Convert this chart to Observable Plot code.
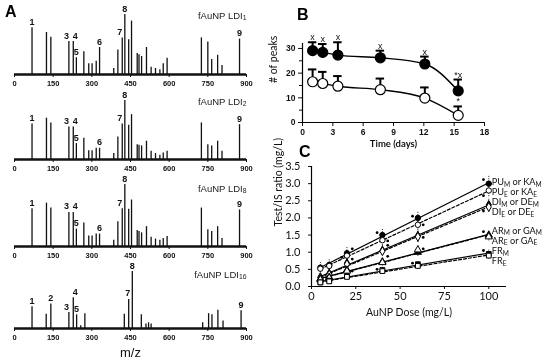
<!DOCTYPE html>
<html><head><meta charset="utf-8">
<script src="https://cdn.jsdelivr.net/npm/d3@7"></script>
<script src="https://cdn.jsdelivr.net/npm/@observablehq/plot@0.6"></script>
<style>
body{margin:0;background:#fff;}
#fig{position:relative;width:550px;height:361px;overflow:hidden;background:#fff;filter:grayscale(1);}
#fig svg{position:absolute;overflow:visible;background:transparent;}
.letter{position:absolute;font:bold 16px "Liberation Sans",Arial,sans-serif;color:#000;line-height:1;}
</style></head><body><div id="fig"></div>
<script>
// ---------- Panel A data (mass spectra, relative intensity, peak 8 = 1) ----------
const mzTicks = [0, 150, 300, 450, 600, 750, 900];
const peakMz = [68,124,141,211,228,240,269,288,301,317,330,385,401,418,428,443,454,476,483,493,512,530,547,564,577,592,725,750,765,788,805,873];
const spec1H = [0.78,0.70,0.62,0.55,0.55,0.28,0.38,0.18,0.18,0.22,0.45,0.10,0.41,0.61,1.00,0.58,0.89,0.35,0.33,0.30,0.45,0.12,0.10,0.08,0.18,0.27,0.61,0.54,0.25,0.32,0.15,0.59];
const spec2H = [0.60,0.70,0.62,0.55,0.55,0.27,0.36,0.15,0.15,0.19,0.19,0.10,0.38,0.60,1.00,0.58,0.76,0.25,0.24,0.23,0.31,0.14,0.10,0.07,0.11,0.14,0.62,0.25,0.23,0.31,0.14,0.59];
const spec3H = [0.61,0.70,0.62,0.55,0.55,0.28,0.38,0.17,0.17,0.20,0.20,0.10,0.40,0.61,1.00,0.60,0.75,0.26,0.24,0.22,0.32,0.15,0.12,0.10,0.13,0.16,0.62,0.27,0.24,0.32,0.13,0.59];
const spec4Mz = [68,123,141,211,228,241,257,273,426,443,457,492,510,520,530,730,753,766,789,809,879];
const spec4H = [0.38,0.25,0.43,0.28,0.54,0.24,0.05,0.26,0.25,0.51,1.00,0.24,0.08,0.10,0.08,0.10,0.26,0.24,0.32,0.13,0.31];
const peakLabels123 = ["1","3","4","5","6","7","8","9"];
const peakLabelMz123 = [68,211,228,240,330,418,428,873];
const peakLabels4 = ["1","2","3","4","5","7","8","9"];
const peakLabelMz4 = [68,141,211,228,241,443,457,879];
const spectrumNames = ["fAuNP LDI_1","fAuNP LDI_2","fAuNP LDI_8","fAuNP LDI_16"];

// ---------- Panel B data ----------
const days = [1, 2, 3.5, 7.7, 12.1, 15.4];
const peaksFilled = [29.1, 28.4, 27.3, 26.2, 23.7, 12.8];
const peaksFilledErr = [3.4, 3.4, 5.2, 2.9, 3.0, 4.6];
const peaksFilledSig = ["x","x","x","x","x","*x"];
const peaksOpen = [16.5, 15.8, 14.7, 13.3, 9.9, 2.9];
const peaksOpenErr = [5.0, 4.7, 4.1, 4.5, 4.3, 3.6];
const peaksOpenSig = ["","","","","","*"];
const timeTicks = [0, 3, 6, 9, 12, 15, 18];
const peakTicks = [0, 10, 20, 30];
const peakMinorTicks = [5, 15, 25];

// ---------- Panel C data ----------
const doses = [5, 10, 20, 40, 60, 100];
const cSeries = ["PU_M","PU_E","DI_M","DI_E","AR_M","AR_E","FR_M","FR_E"];
const cValues = {
  PU_M: [0.55, 0.63, 0.97, 1.50, 2.00, 3.00],
  PU_E: [0.52, 0.60, 0.90, 1.35, 1.80, 2.80],
  DI_M: [0.27, 0.38, 0.68, 1.05, 1.48, 2.38],
  DI_E: [0.25, 0.35, 0.65, 1.03, 1.45, 2.32],
  AR_M: [0.22, 0.27, 0.48, 0.72, 1.00, 1.50],
  AR_E: [0.20, 0.25, 0.45, 0.70, 1.07, 1.45],
  FR_M: [0.12, 0.17, 0.30, 0.48, 0.65, 0.95],
  FR_E: [0.12, 0.15, 0.28, 0.45, 0.60, 0.90]
};
const cErrors = {
  PU_M: [0.15, 0.15, 0.20, 0.20, 0.20, 0.22],
  PU_E: [0.12, 0.12, 0.15, 0.15, 0.15, 0.18],
  DI_M: [0.10, 0.10, 0.15, 0.15, 0.20, 0.20],
  DI_E: [0.10, 0.10, 0.12, 0.12, 0.15, 0.15],
  AR_M: [0.08, 0.08, 0.10, 0.10, 0.12, 0.12],
  AR_E: [0.08, 0.08, 0.10, 0.10, 0.12, 0.12],
  FR_M: [0.05, 0.05, 0.06, 0.08, 0.10, 0.12],
  FR_E: [0.05, 0.05, 0.06, 0.08, 0.10, 0.10]
};
const cSymbols = {PU:"circle", DI:"diamond", AR:"triangle", FR:"square"};
const cLegendText = ["PU_M or KA_M","PU_E or KA_E","DI_M or DE_M","DI_E or DE_E","AR_M or GA_M","AR_E or GA_E","FR_M","FR_E"];
const cLegendAt = [3.05, 2.75, 2.46, 2.16, 1.63, 1.34, 1.03, 0.73];
const sigDoseC = [97, 97, 97, 97, 97, 57, 63, 63, 63, 57, 37, 43, 43, 43, 37, 17, 23, 23, 23];
const sigValC  = [3.12, 2.65, 2.20, 1.60, 1.05, 2.05, 1.80, 1.43, 1.10, 0.68, 1.57, 1.33, 1.20, 0.88, 0.50, 0.85, 1.10, 0.80, 0.45];
const doseTicks = [0, 25, 50, 75, 100];
const ratioTicks = [0, 0.5, 1, 1.5, 2, 2.5, 3, 3.5];

// ---------- helpers ----------
const fig = document.getElementById("fig");
function subscriptify(svg) {
  svg.querySelectorAll("text").forEach(t => {
    if (t.querySelector("tspan")) return;
    const s = t.textContent;
    if (!s.includes("_")) return;
    const parts = s.split(/_(\S+)/);
    t.textContent = "";
    let shifted = false;
    parts.forEach((p, i) => {
      if (!p) return;
      const ts = document.createElementNS("http://www.w3.org/2000/svg", "tspan");
      ts.textContent = p;
      if (i % 2 === 1) {
        ts.setAttribute("font-size", "0.72em");
        ts.setAttribute("dy", "0.25em");
        shifted = true;
      } else if (shifted) {
        ts.setAttribute("dy", "-0.18em");
        shifted = false;
      }
      t.appendChild(ts);
    });
  });
}
function place(el, left, top) {
  el.style.left = left + "px";
  el.style.top = top + "px";
  fig.appendChild(el);
  subscriptify(el);
}
function letter(txt, left, top) {
  const d = document.createElement("div");
  d.className = "letter"; d.textContent = txt;
  d.style.left = left + "px"; d.style.top = top + "px";
  fig.appendChild(d);
}

// ---------- Panel A ----------
function spectrum(mzs, hs, labN, labMz, name, cfg) {
  const peaks = mzs.map((mz, i) => ({mz, h: hs[i]}));
  const labels = labN.map((n, i) => ({n, mz: labMz[i], h: hs[mzs.indexOf(labMz[i])]}));
  const height = cfg.last ? 107 : 90;
  const lab = {x: "mz", y: "h", text: "n", dy: -3, lineAnchor: "bottom", fontSize: 9, fontWeight: "bold"};
  const marks = [
    Plot.ruleX(peaks, {x: "mz", y1: 0, y2: "h", stroke: "#111", strokeWidth: 1.3}),
    Plot.ruleY([0], {stroke: "#111", strokeWidth: 2.4}),
    Plot.axisX({ticks: mzTicks, tickSize: 3, tickPadding: 3, label: null, fontSize: 7.5, fontWeight: "bold"}),
    Plot.text(labels.filter(d => !["3","4","7"].includes(d.n)), lab),
    Plot.text(labels.filter(d => d.n === "3"), {...lab, dx: -2.5}),
    Plot.text(labels.filter(d => d.n === "4"), {...lab, dx: 2}),
    Plot.text(labels.filter(d => d.n === "7"), {...lab, dx: cfg.last ? -1 : -2.5}),
    Plot.text([name], {frameAnchor: "top-right", text: d => d, lineAnchor: "middle", textAnchor: "end", dy: cfg.nameDy, fontSize: 9.5, fill: "#222"})
  ];
  if (cfg.last) marks.push(Plot.text(["m/z"], {frameAnchor: "bottom", text: d => d, dy: 24, lineAnchor: "middle", fontSize: 13}));
  return Plot.plot({
    width: 270, height,
    marginLeft: 14, marginRight: 24, marginTop: cfg.marginTop, marginBottom: cfg.last ? 33 : 16,
    style: {fontFamily: "'Liberation Sans', Arial, sans-serif", background: "transparent", color: "#111"},
    x: {domain: [0, 900]},
    y: {domain: [0, 1], axis: null},
    marks
  });
}
place(spectrum(peakMz, spec1H, peakLabels123, peakLabelMz123, spectrumNames[0], {marginTop: 14, nameDy: 1}), 0, 0);
place(spectrum(peakMz, spec2H, peakLabels123, peakLabelMz123, spectrumNames[1], {marginTop: 15, nameDy: 1}), 0, 85);
place(spectrum(peakMz, spec3H, peakLabels123, peakLabelMz123, spectrumNames[2], {marginTop: 12, nameDy: 4}), 0, 172);
place(spectrum(spec4Mz, spec4H, peakLabels4, peakLabelMz4, spectrumNames[3], {marginTop: 17, nameDy: 3, last: true}), 0, 254);

// ---------- Panel B ----------
const filled = days.map((d, i) => ({day: d, v: peaksFilled[i], cap: peaksFilled[i] + peaksFilledErr[i], sig: peaksFilledSig[i]}));
const open = days.map((d, i) => ({day: d, v: peaksOpen[i], cap: peaksOpen[i] + peaksOpenErr[i], sig: peaksOpenSig[i]}));
const bMarks = [];
for (const [data, fill] of [[filled, "black"], [open, "white"]]) {
  bMarks.push(
    Plot.line(data, {x: "day", y: "v", curve: "monotone-x", stroke: "black", strokeWidth: 1.4}),
    Plot.ruleX(data, {x: "day", y1: "v", y2: "cap", stroke: "black", strokeWidth: 2}),
    Plot.ruleY(data, {y: "cap", x1: d => d.day - 0.42, x2: d => d.day + 0.42, stroke: "black", strokeWidth: 2}),
    Plot.dot(data, {x: "day", y: "v", r: 5, fill, stroke: "black", strokeWidth: 1.2}),
    Plot.text(data, {x: "day", y: "cap", text: "sig", dy: -2, lineAnchor: "bottom", fontSize: 9, fontFamily: "'Liberation Sans', Arial, sans-serif"})
  );
}
const plotB = Plot.plot({
  width: 285, height: 150,
  marginLeft: 37, marginRight: 66, marginTop: 43, marginBottom: 28,
  style: {fontFamily: "'Liberation Sans', Arial, sans-serif", background: "transparent", color: "#111"},
  x: {domain: [0, 18]},
  y: {domain: [0, 32]},
  marks: [
    Plot.axisX({ticks: timeTicks, tickSize: 4, tickPadding: 2, fontSize: 8.5, fontWeight: "bold", label: null}),
    Plot.axisY({ticks: peakTicks, tickSize: 4, tickPadding: 3, fontSize: 8.5, fontWeight: "bold", label: null}),
    Plot.axisY({ticks: peakMinorTicks, tickSize: 3, tickFormat: () => "", label: null}),
    Plot.ruleX([0], {stroke: "black", strokeWidth: 1.2}),
    Plot.ruleY([0], {stroke: "black", strokeWidth: 1.2}),
    Plot.text(["Time (days)"], {frameAnchor: "bottom", text: d => d, dy: 21, lineAnchor: "middle", fontSize: 9.5, fontFamily: "Lato, 'Open Sans', sans-serif", fontWeight: "bold"}),
    Plot.text(["# of peaks"], {frameAnchor: "left", text: d => d, dx: -29, rotate: -90, lineAnchor: "middle", fontSize: 10.5, fontFamily: "Lato, 'Open Sans', sans-serif"}),
    ...bMarks
  ]
});
place(plotB, 265, 0);

// ---------- Panel C ----------
const cData = cSeries.flatMap(s => doses.map((dose, i) => ({
  s, dose, v: cValues[s][i], e: cErrors[s][i], kind: s.slice(-1), sym: cSymbols[s.slice(0, 2)]
})));
const sigC = sigDoseC.map((d, i) => ({dose: d, v: sigValC[i]}));
const legendC = cLegendText.map((t, i) => ({t, v: cLegendAt[i]}));
const plotC = Plot.plot({
  width: 285, height: 170,
  marginLeft: 46, marginRight: 44, marginTop: 16, marginBottom: 34,
  style: {fontFamily: "Lato, 'Open Sans', sans-serif", background: "transparent", color: "#111"},
  x: {domain: [0, 110]},
  y: {domain: [0, 3.5]},
  symbol: {type: "identity"},
  marks: [
    Plot.axisX({ticks: doseTicks, tickSize: 3, tickPadding: 3, fontSize: 11, label: null}),
    Plot.axisY({ticks: ratioTicks, tickSize: 3, tickPadding: 8, fontSize: 11, label: null}),
    Plot.ruleX([0], {stroke: "black", strokeWidth: 1.2}),
    Plot.ruleY([0], {stroke: "black", strokeWidth: 1.2}),
    Plot.text(["AuNP Dose (mg/L)"], {frameAnchor: "bottom", text: d => d, dy: 26, lineAnchor: "middle", fontSize: 10.5}),
    Plot.text(["Test/IS ratio (mg/L)"], {frameAnchor: "left", text: d => d, dx: -33, rotate: -90, lineAnchor: "middle", fontSize: 10.5}),
    Plot.ruleX(cData, {x: "dose", y1: d => d.v - d.e, y2: d => d.v + d.e, stroke: "#222", strokeWidth: 1, strokeDasharray: "1,1.3"}),
    Plot.linearRegressionY(cData.filter(d => d.kind === "M"), {x: "dose", y: "v", z: "s", stroke: "black", strokeWidth: 1.2, ci: 0}),
    Plot.linearRegressionY(cData.filter(d => d.kind === "E"), {x: "dose", y: "v", z: "s", stroke: "black", strokeWidth: 1.2, strokeDasharray: "3,2", ci: 0}),
    Plot.dot(cData, {x: "dose", y: "v", symbol: "sym", r: 2.7, fill: d => d.kind === "M" ? "black" : "white", stroke: "black", strokeWidth: 1}),
    Plot.dot(sigC, {x: "dose", y: "v", r: 1.4, fill: "black"}),
    Plot.text(legendC, {x: 100, y: "v", text: "t", textAnchor: "start", dx: 3, fontSize: 9.2})
  ]
});
place(plotC, 265, 150);

letter("A", 5, 4);
letter("B", 297, 7);
letter("C", 299, 144);
</script>
</body></html>
